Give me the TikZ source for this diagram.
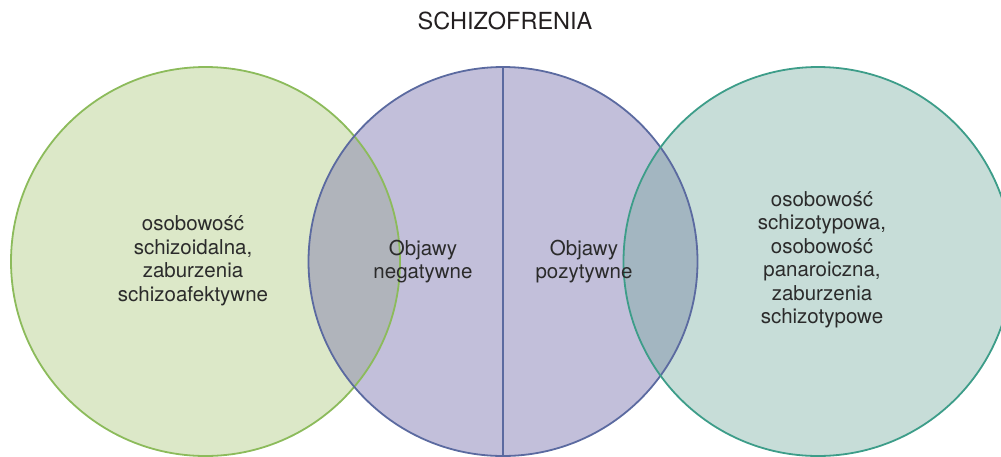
\documentclass[tikz,border=0pt]{standalone}
\usepackage{fontspec}
\setmainfont{TeX Gyre Heros}
\usepackage{xcolor}
\usetikzlibrary{positioning}

\definecolor{schizoidfill}{HTML}{DCE8C8}
\definecolor{schizoidline}{HTML}{8CBB5B}
\definecolor{symptomfill}{HTML}{C2BFDA}
\definecolor{symptomline}{HTML}{5B6AA0}
\definecolor{typowyfill}{HTML}{C7DDD8}
\definecolor{typowyline}{HTML}{3D9D89}
\definecolor{leftoverlap}{HTML}{B0B4BB}
\definecolor{rightoverlap}{HTML}{A3B6C1}
\definecolor{labelgray}{HTML}{2B2B2B}
\definecolor{titleblack}{HTML}{231F20}

\begin{document}
\begin{tikzpicture}[x=1pt,y=-1pt,
  disc/.style={circle,minimum size=389pt,inner sep=0pt,draw=none},
  ring/.style={line width=1.8pt},
  setlabel/.style={align=center,inner sep=0pt,text=labelgray,font=\fontsize{20.5}{23.5}\selectfont},
  titlelabel/.style={inner sep=0pt,text=titleblack,font=\fontsize{23.5}{27}\selectfont}
]
\useasboundingbox (0,0) rectangle (1001,456);
\clip (0,0) rectangle (1001,456);

% Sets
\node[disc,fill=schizoidfill] (schizoid) at (205.5,261.5) {};
\node[disc,fill=symptomfill] (symptoms) at (503,261.5) {};
\node[disc,fill=typowyfill] (typowy) at (818,261.5) {};

% Overlaps
\begin{scope}
  \clip (schizoid.center) circle[radius=194.5pt];
  \fill[leftoverlap] (symptoms.center) circle[radius=194.5pt];
\end{scope}
\begin{scope}
  \clip (typowy.center) circle[radius=194.5pt];
  \fill[rightoverlap] (symptoms.center) circle[radius=194.5pt];
\end{scope}

% Outlines
\draw[ring,schizoidline] (schizoid.center) circle[radius=194.5pt];
\draw[ring,symptomline] (symptoms.center) circle[radius=194.5pt];
\draw[ring,typowyline] (typowy.center) circle[radius=194.5pt];
\draw[ring,symptomline] (symptoms.north) -- (symptoms.south);

% Labels
\node[titlelabel] (title) at (505,20.5) {SCHIZOFRENIA};
\node[setlabel] (schizoidtext) at (193,261) {osobowość\\schizoidalna,\\zaburzenia\\schizoafektywne};
\node[setlabel] (negative) at (423,261.5) {Objawy\\negatywne};
\node[setlabel] (positive) at (584,261.5) {Objawy\\pozytywne};
\node[setlabel] (typowytext) at (822,260) {osobowość\\schizotypowa,\\osobowość\\panaroiczna,\\zaburzenia\\schizotypowe};

\end{tikzpicture}
\end{document}
